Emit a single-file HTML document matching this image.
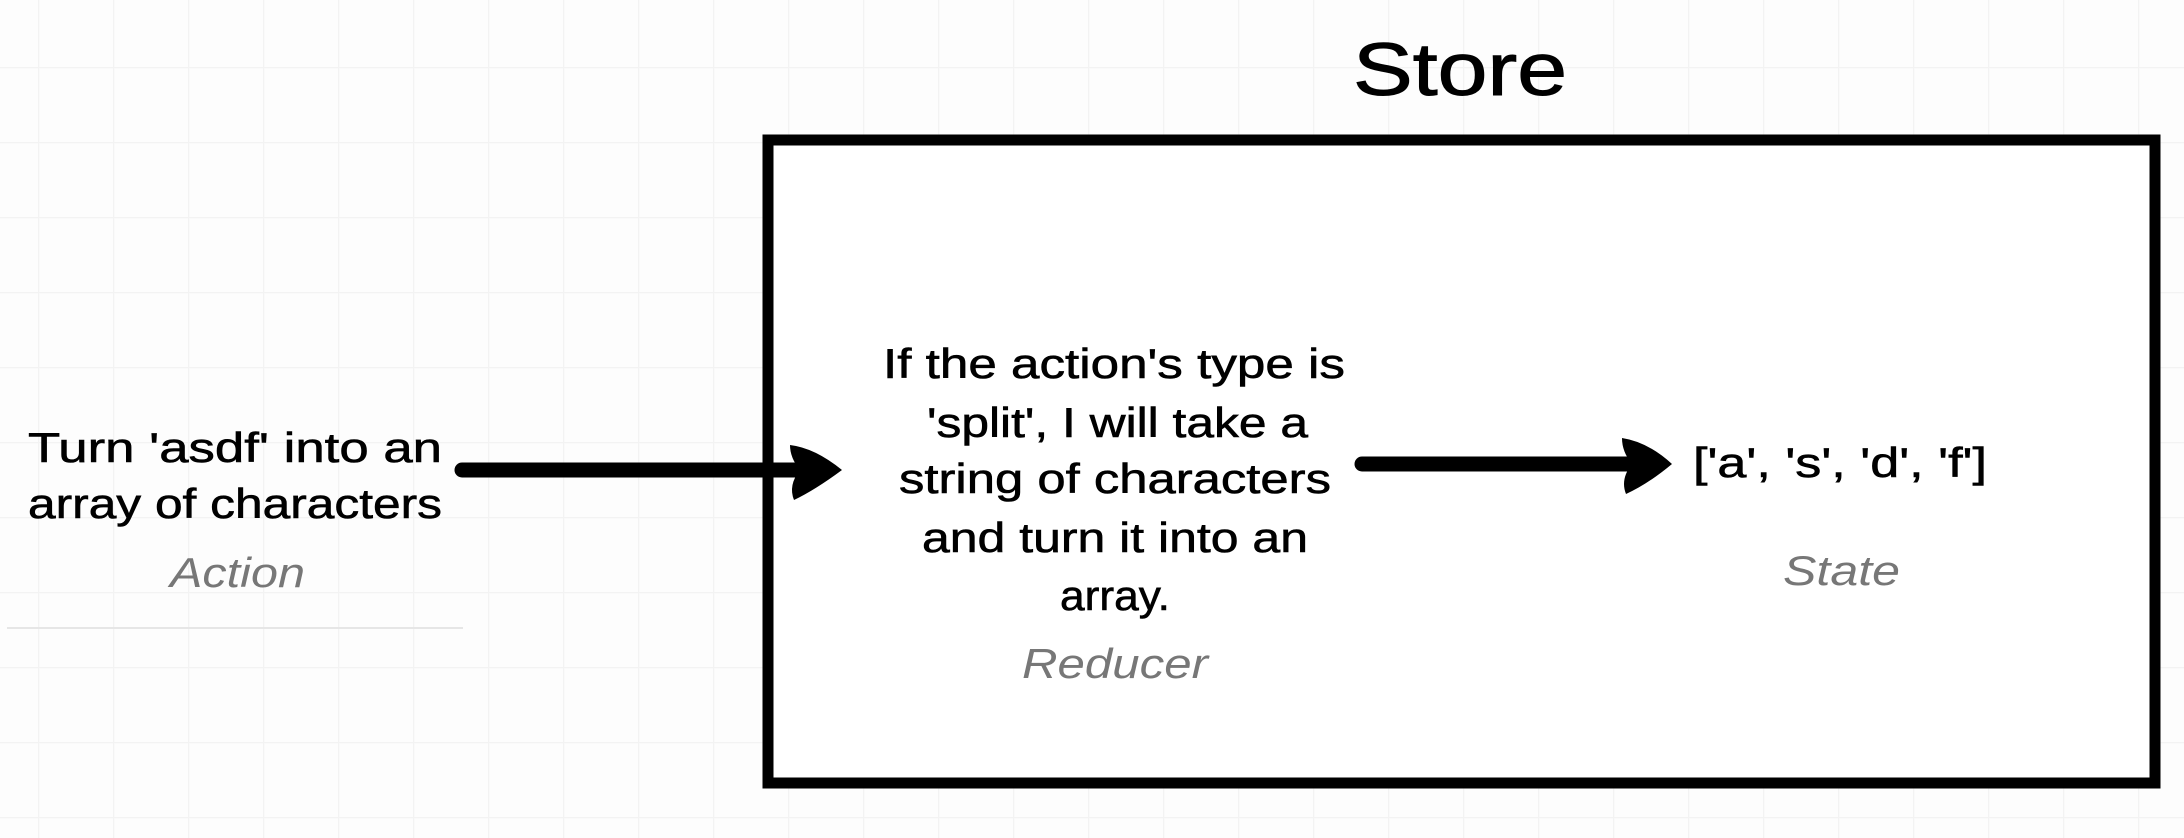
<!DOCTYPE html>
<html><head><meta charset="utf-8"><style>
html,body{margin:0;padding:0;background:#fff;}
svg{display:block;}
text{font-family:"Liberation Sans",sans-serif;}
.b{font-size:42px;fill:#000;stroke:#000;stroke-width:0.6;}
.g{font-size:42px;fill:#777;font-style:italic;}
</style></head><body>
<svg width="2184" height="838" viewBox="0 0 2184 838" xmlns="http://www.w3.org/2000/svg">
<defs>
<pattern id="grid" x="38" y="67" width="75" height="75" patternUnits="userSpaceOnUse">
<path d="M0 0H75M0 0V75" stroke="#f3f3f3" stroke-width="2.5" fill="none"/>
</pattern>
</defs>
<rect width="2184" height="838" fill="#fdfdfd"/>
<rect width="2184" height="838" fill="url(#grid)"/>
<rect x="768" y="140" width="1387" height="643" fill="#fff" stroke="#000" stroke-width="11"/>
<text x="1460" y="95" font-size="74" stroke="#000" stroke-width="1" textLength="214" lengthAdjust="spacingAndGlyphs" text-anchor="middle">Store</text>
<text class="b" x="28" y="462" textLength="414" lengthAdjust="spacingAndGlyphs">Turn 'asdf' into an</text>
<text class="b" x="28" y="518" textLength="414" lengthAdjust="spacingAndGlyphs">array of characters</text>
<text class="g" x="170" y="587" textLength="135" lengthAdjust="spacingAndGlyphs">Action</text>
<line x1="7" y1="628" x2="463" y2="628" stroke="#e6e6e6" stroke-width="2"/>
<line x1="462" y1="470" x2="805" y2="470" stroke="#000" stroke-width="15" stroke-linecap="round"/>
<path d="M790 445 Q815 448 842 470 Q815 490 794 500 Q788 485 800 470 Q790 458 790 445Z" fill="#000"/>
<text class="b" x="883" y="378" textLength="462" lengthAdjust="spacingAndGlyphs">If the action's type is</text>
<text class="b" x="927" y="437" textLength="381" lengthAdjust="spacingAndGlyphs">'split', I will take a</text>
<text class="b" x="899" y="493" textLength="432" lengthAdjust="spacingAndGlyphs">string of characters</text>
<text class="b" x="922" y="552" textLength="386" lengthAdjust="spacingAndGlyphs">and turn it into an</text>
<text class="b" x="1060" y="610" textLength="110" lengthAdjust="spacingAndGlyphs">array.</text>
<text class="g" x="1022" y="678" textLength="186" lengthAdjust="spacingAndGlyphs">Reducer</text>
<line x1="1362" y1="464" x2="1640" y2="464" stroke="#000" stroke-width="15" stroke-linecap="round"/>
<path d="M1622 438 Q1648 442 1672 464 Q1648 484 1626 494 Q1620 479 1632 464 Q1622 452 1622 438Z" fill="#000"/>
<text class="b" x="1693" y="477" textLength="294" lengthAdjust="spacingAndGlyphs">['a', 's', 'd', 'f']</text>
<text class="g" x="1783" y="585" textLength="117" lengthAdjust="spacingAndGlyphs">State</text>
</svg>
</body></html>
